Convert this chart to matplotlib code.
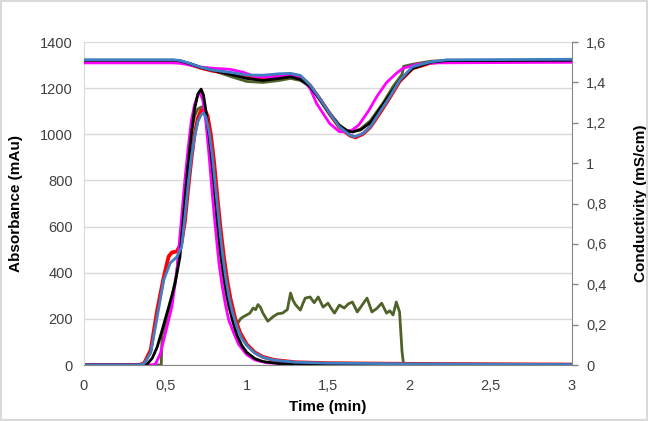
import matplotlib
matplotlib.use("Agg")
import matplotlib.pyplot as plt
from matplotlib.ticker import FuncFormatter

plt.rcParams['font.family'] = ['Liberation Sans', 'DejaVu Sans']

# absorbance (mAu) vs time (min), five runs
t_red = [0, 0.34, 0.37, 0.41, 0.45, 0.49, 0.52, 0.54, 0.57, 0.60, 0.62, 0.64, 0.66, 0.68, 0.70,
         0.72, 0.74, 0.76, 0.78, 0.80, 0.82, 0.84, 0.86, 0.88, 0.90, 0.93, 0.96, 1.0, 1.05,
         1.1, 1.17, 1.3, 1.5, 2.0, 3.0]
a_red = [0, 0, 8, 65, 238, 381, 470, 488, 492, 530, 620, 760, 890, 1000, 1070,
         1103, 1110, 1080, 1000, 880, 730, 590, 470, 370, 290, 200, 140, 90, 55,
         35, 22, 12, 8, 5, 2]

t_blue = [0, 0.34, 0.37, 0.41, 0.45, 0.49, 0.53, 0.57, 0.60, 0.62, 0.64, 0.66, 0.68, 0.70,
          0.72, 0.735, 0.75, 0.77, 0.79, 0.81, 0.83, 0.85, 0.87, 0.89, 0.91, 0.94, 0.97, 1.0,
          1.05, 1.1, 1.17, 1.3, 1.5, 2.0, 3.0]
a_blue = [0, 0, 6, 52, 208, 368, 442, 468, 511, 640, 780, 900, 990, 1055,
          1085, 1092, 1075, 1010, 900, 760, 620, 490, 385, 300, 235, 165, 115, 85,
          52, 33, 21, 12, 8, 5, 2]

t_black = [0, 0.37, 0.39, 0.42, 0.45, 0.48, 0.51, 0.54, 0.56, 0.59, 0.62, 0.64, 0.66, 0.68,
           0.70, 0.72, 0.735, 0.75, 0.77, 0.79, 0.80, 0.82, 0.84, 0.86, 0.88, 0.91, 0.94,
           0.97, 1.0, 1.05, 1.1, 1.2, 1.4, 2.0, 3.0]
a_black = [0, 0, 5, 30, 78, 150, 225, 300, 355, 468, 715, 870, 1000, 1110,
           1175, 1196, 1170, 1100, 990, 860, 790, 630, 490, 390, 300, 200, 130,
           85, 55, 28, 15, 6, 3, 2, 1]

t_mag = [0, 0.42, 0.44, 0.47, 0.49, 0.54, 0.57, 0.60, 0.62, 0.64, 0.66, 0.68, 0.70, 0.715,
         0.73, 0.75, 0.77, 0.79, 0.81, 0.83, 0.85, 0.87, 0.89, 0.92, 0.95, 1.0, 1.05, 1.12,
         1.3, 2.0, 3.0]
a_mag = [0, 0, 5, 50, 108, 251, 400, 641, 800, 940, 1060, 1130, 1170, 1178,
         1150, 1050, 900, 730, 580, 440, 340, 260, 195, 140, 90, 45, 22, 10,
         3, 1, 1]

t_green = [0, 0.475, 0.48, 0.51, 0.54, 0.57, 0.60, 0.62, 0.64, 0.66, 0.68, 0.70, 0.72, 0.735,
           0.75, 0.77, 0.79, 0.81, 0.83, 0.85, 0.87, 0.89, 0.915, 0.93, 0.946, 0.962, 0.977,
           1.00, 1.02, 1.04, 1.055, 1.07, 1.085, 1.10, 1.13, 1.16, 1.19, 1.22, 1.25, 1.27,
           1.285, 1.30, 1.33, 1.345, 1.36, 1.39, 1.415, 1.44, 1.47, 1.50, 1.52, 1.54, 1.57,
           1.60, 1.625, 1.65, 1.68, 1.71, 1.74, 1.77, 1.80, 1.83, 1.86, 1.88, 1.90, 1.92,
           1.94, 1.955, 1.965, 3.0]
a_green = [0, 0, 130, 200, 290, 400, 600, 760, 900, 1010, 1080, 1110, 1118, 1120,
           1090, 990, 830, 670, 530, 410, 320, 250, 200, 190, 182, 200, 208,
           217, 225, 247, 240, 262, 250, 225, 190, 208, 222, 225, 240, 312,
           280, 262, 238, 265, 290, 295, 270, 295, 251, 268, 245, 225, 260,
           247, 265, 273, 230, 260, 290, 230, 245, 268, 225, 235, 217, 273,
           230, 60, 0, 0]

# conductivity (mS/cm) vs time (min)
tc_blue = [0, 0.55, 0.59, 0.65, 0.72, 0.79, 0.90, 1.0, 1.10, 1.20, 1.27, 1.33, 1.39, 1.45,
           1.51, 1.57, 1.635, 1.665, 1.715, 1.76, 1.82, 1.88, 1.94, 2.02, 2.13, 2.23, 3.0]
c_blue = [1.512, 1.512, 1.509, 1.495, 1.475, 1.461, 1.45, 1.437, 1.436, 1.443, 1.445, 1.435, 1.387,
          1.32, 1.247, 1.18, 1.139, 1.131, 1.148, 1.18, 1.255, 1.329, 1.41, 1.478, 1.502, 1.512, 1.515]

tc_red = [0, 0.55, 0.59, 0.65, 0.72, 0.79, 0.90, 1.0, 1.10, 1.20, 1.27, 1.33, 1.39, 1.45,
          1.51, 1.57, 1.635, 1.67, 1.715, 1.76, 1.82, 1.88, 1.94, 2.02, 2.13, 2.23, 3.0]
c_red = [1.505, 1.505, 1.502, 1.49, 1.472, 1.458, 1.445, 1.43, 1.425, 1.435, 1.44, 1.43, 1.385,
         1.318, 1.245, 1.178, 1.137, 1.128, 1.145, 1.178, 1.25, 1.325, 1.405, 1.47, 1.497, 1.505, 1.507]

tc_black = [0, 0.55, 0.59, 0.65, 0.72, 0.79, 0.90, 1.0, 1.10, 1.20, 1.27, 1.33, 1.39, 1.45,
            1.51, 1.57, 1.62, 1.65, 1.70, 1.76, 1.82, 1.88, 1.94, 2.02, 2.13, 2.23, 3.0]
c_black = [1.51, 1.51, 1.507, 1.493, 1.474, 1.46, 1.44, 1.42, 1.41, 1.42, 1.428, 1.415, 1.38,
           1.315, 1.245, 1.185, 1.16, 1.155, 1.165, 1.20, 1.27, 1.34, 1.41, 1.47, 1.50, 1.508, 1.51]

tc_green = [0, 0.55, 0.59, 0.65, 0.72, 0.79, 0.90, 1.0, 1.10, 1.20, 1.27, 1.33, 1.39, 1.45,
            1.51, 1.57, 1.62, 1.65, 1.70, 1.76, 1.84, 1.90, 1.955, 1.965, 2.02, 2.13, 2.23, 3.0]
c_green = [1.51, 1.51, 1.507, 1.493, 1.474, 1.46, 1.43, 1.405, 1.40, 1.41, 1.42, 1.41, 1.38,
           1.32, 1.25, 1.19, 1.16, 1.155, 1.17, 1.21, 1.30, 1.38, 1.44, 1.48, 1.49, 1.505, 1.51, 1.51]

tc_mag = [0, 0.55, 0.59, 0.65, 0.72, 0.80, 0.90, 0.98, 1.05, 1.15, 1.25, 1.30, 1.35, 1.39,
          1.43, 1.51, 1.57, 1.60, 1.65, 1.69, 1.75, 1.80, 1.86, 1.92, 1.96, 2.05, 2.15, 3.0]
c_mag = [1.497, 1.497, 1.495, 1.487, 1.476, 1.47, 1.465, 1.45, 1.43, 1.425, 1.435, 1.43, 1.41,
         1.37, 1.296, 1.197, 1.156, 1.155, 1.165, 1.19, 1.26, 1.33, 1.40, 1.445, 1.47, 1.49, 1.497, 1.50]

RED = '#ff0000'
BLUE = '#3f7fc4'
BLACK = '#000000'
MAG = '#ff00ff'
GREEN = '#4f6228'

fig = plt.figure(figsize=(6.48, 4.21), dpi=100)
fig.patch.set_facecolor('white')
ax = fig.add_axes([0.1296, 0.133, 0.7531, 0.767])

lw = 2.0
ax.plot(t_green, a_green, color=GREEN, lw=lw, solid_joinstyle='round')
ax.plot(t_red, a_red, color=RED, lw=lw + 0.7, solid_joinstyle='round')
ax.plot(t_mag, a_mag, color=MAG, lw=lw, solid_joinstyle='round')
ax.plot(t_black, a_black, color=BLACK, lw=lw, solid_joinstyle='round')
ax.plot(t_blue, a_blue, color=BLUE, lw=lw, solid_joinstyle='round')

ax.set_xlim(0, 3)
ax.set_ylim(0, 1400)
ax.set_yticks(range(0, 1401, 200))
ax.set_xticks([0, 0.5, 1, 1.5, 2, 2.5, 3])
ax.xaxis.set_major_formatter(FuncFormatter(lambda v, p: ('%g' % v).replace('.', ',')))
ax.grid(axis='y', color='#d9d9d9', lw=1)
ax.set_axisbelow(True)
ax.tick_params(axis='y', length=0, labelsize=10.5, colors='#404040', pad=8)
ax.tick_params(axis='x', length=0, labelsize=10.5, colors='#404040', pad=10)
for s in ['top', 'right']:
    ax.spines[s].set_visible(False)
ax.spines['left'].set_color('#d9d9d9')
ax.spines['bottom'].set_color('#868686')
ax.set_xlabel('Time (min)', fontsize=11, fontweight='bold', color='#000000', labelpad=5)
ax.set_ylabel('Absorbance (mAu)', fontsize=11, fontweight='bold', color='#000000', labelpad=12)

ax2 = ax.twinx()
ax2.plot(tc_green, c_green, color=GREEN, lw=lw, solid_joinstyle='round')
ax2.plot(tc_red, c_red, color=RED, lw=lw + 0.7, solid_joinstyle='round')
ax2.plot(tc_mag, c_mag, color=MAG, lw=lw, solid_joinstyle='round')
ax2.plot(tc_black, c_black, color=BLACK, lw=lw, solid_joinstyle='round')
ax2.plot(tc_blue, c_blue, color=BLUE, lw=lw, solid_joinstyle='round')
ax2.set_ylim(0, 1.6)
ax2.set_yticks([0, 0.2, 0.4, 0.6, 0.8, 1.0, 1.2, 1.4, 1.6])
ax2.yaxis.set_major_formatter(FuncFormatter(lambda v, p: ('%g' % round(v, 1)).replace('.', ',')))
ax2.tick_params(axis='y', length=4, width=1, color='#868686', labelsize=10.5, labelcolor='#404040', pad=6)
for s in ['top', 'left', 'bottom']:
    ax2.spines[s].set_visible(False)
ax2.spines['right'].set_color('#868686')
ax2.set_ylabel('Conductivity (mS/cm)', fontsize=11, fontweight='bold', color='#000000', labelpad=20)

# light frame round the chart
fig.patches.append(plt.Rectangle((0.002, 0.003), 0.996, 0.994, transform=fig.transFigure,
                                 fill=False, edgecolor='#d9d9d9', lw=1.5))

fig.savefig('out.png', dpi=100)
